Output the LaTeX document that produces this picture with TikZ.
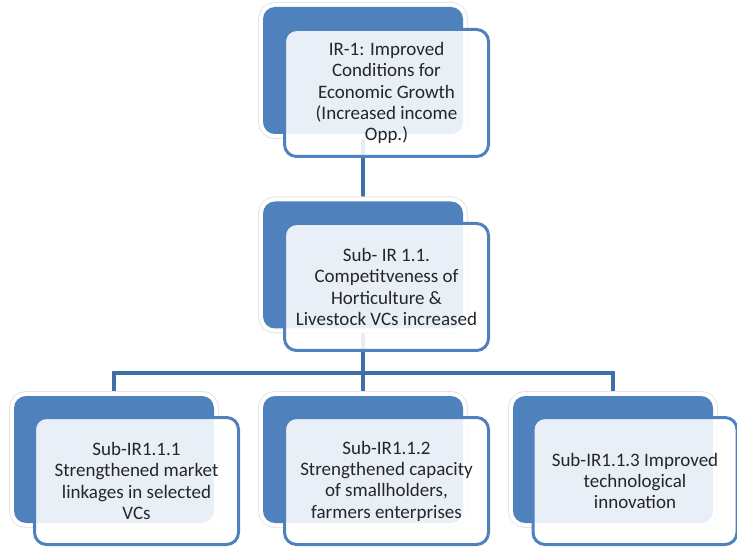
\documentclass[tikz,border=0pt]{standalone}
\usepackage{fontspec}
\setmainfont{Carlito}
\usetikzlibrary{backgrounds}
\definecolor{boxblue}{HTML}{4F81BD}
\definecolor{linkblue}{HTML}{3E6FAA}
\tikzset{
  backbox/.style={minimum width=200pt, minimum height=127pt, rounded corners=12pt,
    preaction={draw=black!10, line width=10pt},
    preaction={draw=white, line width=8pt},
    fill=boxblue, inner sep=0pt},
  frontbox/.style={minimum width=204pt, minimum height=127pt, rounded corners=12pt,
    draw=boxblue, line width=3pt, fill=white, fill opacity=0.88, text opacity=1,
    text=black!85, align=center, inner sep=0pt,
    font=\fontsize{19}{21.3}\selectfont},
  link/.style={draw=linkblue, line width=4pt}
}
\begin{document}
\begin{tikzpicture}[x=1pt,y=-1pt]
  \useasboundingbox (0,0) rectangle (737,548);
  % back boxes
  \node[backbox] (ir1b) at (363,70.5) {};
  \node[backbox] (sub11b) at (363,265) {};
  \node[backbox] (sub111b) at (114,459.5) {};
  \node[backbox] (sub112b) at (363,459.5) {};
  \node[backbox] (sub113b) at (613,459.5) {};
  \coordinate (bus) at (363,373);
  % connectors
  \begin{scope}[on background layer]
    \draw[link] (ir1b.center) -- (sub11b.center);
    \draw[link] (sub11b.center) -- (sub112b.center);
    \draw[link] (sub111b.center) |- (bus) -| (sub113b.center);
  \end{scope}
  % front boxes
  \node[frontbox] (ir1) at (386.5,93) {IR-1: Improved\\Conditions for\\Economic Growth\\(Increased income\\Opp.)};
  \node[frontbox] (sub11) at (386.5,287) {Sub- IR 1.1.\\Competitveness of\\Horticulture \&\\Livestock VCs increased};
  \node[frontbox] (sub111) at (136.5,481) {Sub-IR1.1.1\\Strengthened market\\linkages in selected\\VCs};
  \node[frontbox] (sub112) at (386.5,481) {Sub-IR1.1.2\\Strengthened capacity\\of smallholders,\\farmers enterprises};
  \node[frontbox] (sub113) at (635,481) {Sub-IR1.1.3 Improved\\technological\\innovation};
\end{tikzpicture}
\end{document}
